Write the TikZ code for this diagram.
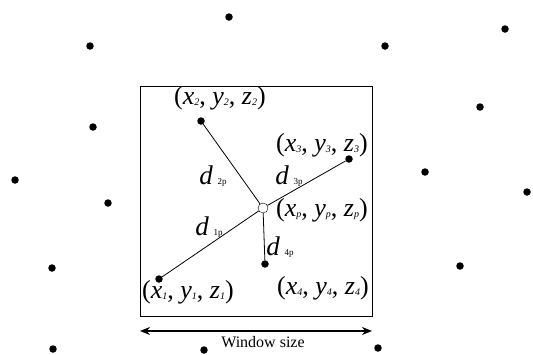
\documentclass[tikz,border=0pt]{standalone}
\usepackage{fontspec}
\setmainfont{Liberation Serif}
\usetikzlibrary{arrows.meta}

\newcommand{\isub}[1]{\raisebox{-1.5pt}{\fontsize{10}{10}\selectfont\textit{#1}}}
\newcommand{\dsub}[1]{\,\raisebox{0pt}{\fontsize{9}{9}\selectfont #1}}

\begin{document}
\begin{tikzpicture}[
    x=1pt, y=-1pt,
    pt/.style={circle, fill=black, inner sep=0pt, minimum size=7.5pt},
    tgt/.style={circle, draw=black, fill=white, thin, inner sep=0pt, minimum size=10pt},
    link/.style={draw=black, line width=0.8pt},
    lbl/.style={font=\fontsize{26}{28}\selectfont, inner sep=0pt},
    dlbl/.style={font=\fontsize{27}{29}\selectfont, inner sep=0pt},
    span/.style={{Stealth[length=10pt,width=8pt]}-{Stealth[length=10pt,width=8pt]}, line width=1.8pt},
]
\useasboundingbox (0,0) rectangle (533,354);
% window
\draw[line width=0.8pt] (140,86) rectangle (372,316);
% scattered points outside the window
\node[pt] (o1) at (229,17) {};
\node[pt] (o2) at (90,46) {};
\node[pt] (o3) at (385,46) {};
\node[pt] (o4) at (505,29) {};
\node[pt] (o5) at (93,127) {};
\node[pt] (o6) at (480,107) {};
\node[pt] (o7) at (15,180) {};
\node[pt] (o8) at (108,203) {};
\node[pt] (o9) at (425,172) {};
\node[pt] (o10) at (527,192) {};
\node[pt] (o11) at (52,268) {};
\node[pt] (o12) at (460,266) {};
\node[pt] (o13) at (53,349) {};
\node[pt] (o14) at (204,350) {};
\node[pt] (o15) at (378,348) {};
% points inside the window
\node[pt] (p1) at (159,279) {};
\node[pt] (p2) at (201,121) {};
\node[pt] (p3) at (349,159) {};
\node[pt] (p4) at (265,264) {};
\node[tgt] (pp) at (263,208) {};
\draw[link] (pp) -- (p1);
\draw[link] (pp) -- (p2);
\draw[link] (pp) -- (p3);
\draw[link] (pp) -- (p4);
% coordinates
\node[lbl] (c2) at (220,98) {(\textit{x}\isub{2}, \textit{y}\isub{2}, \textit{z}\isub{2})};
\node[lbl] (c3) at (322,145) {(\textit{x}\isub{3}, \textit{y}\isub{3}, \textit{z}\isub{3})};
\node[lbl] (cp) at (322,210) {(\textit{x}\isub{p}, \textit{y}\isub{p}, \textit{z}\isub{p})};
\node[lbl] (c4) at (323,288) {(\textit{x}\isub{4}, \textit{y}\isub{4}, \textit{z}\isub{4})};
\node[lbl] (c1) at (188,292) {(\textit{x}\isub{1}, \textit{y}\isub{1}, \textit{z}\isub{1})};
% distances
\node[dlbl] (d2) at (213,176) {\textit{d}\dsub{2p}};
\node[dlbl] (d3) at (289,176) {\textit{d}\dsub{3p}};
\node[dlbl] (d1) at (209,227) {\textit{d}\dsub{1p}};
\node[dlbl] (d4) at (280,247) {\textit{d}\dsub{4p}};
% window size
\coordinate (wl) at (140,331);
\coordinate (wr) at (372,331);
\draw[span] (wl) -- (wr);
\node[font=\fontsize{16}{18}\selectfont, inner sep=0pt] (ws) at (263,342) {Window size};
\end{tikzpicture}
\end{document}
